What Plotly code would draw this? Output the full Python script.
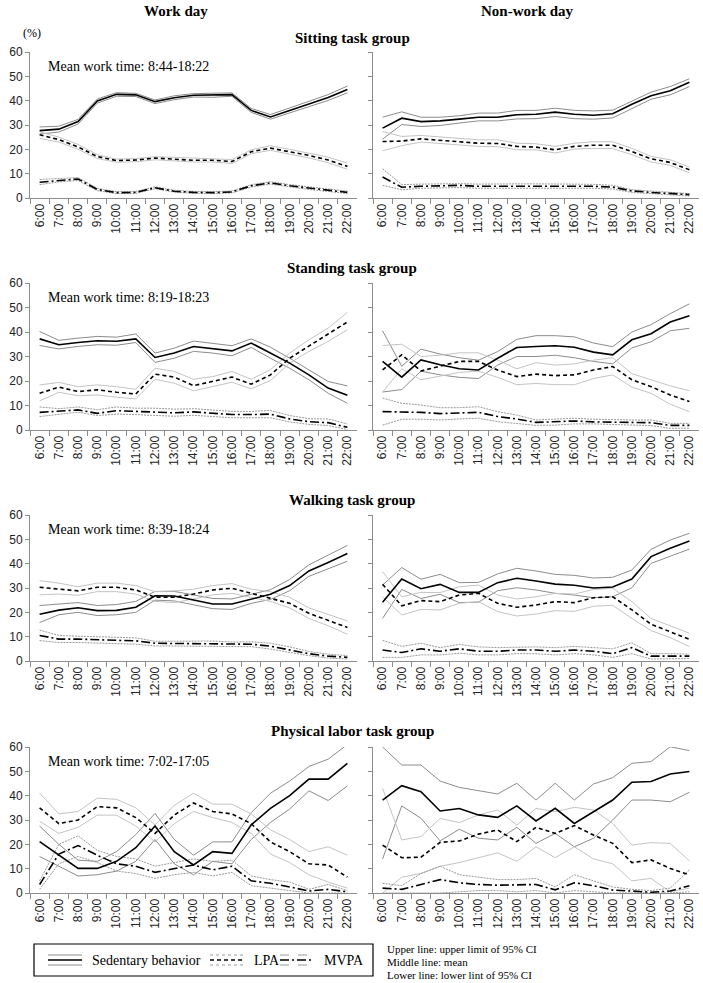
import plotly.graph_objects as go

hours = ["6:00", "7:00", "8:00", "9:00", "10:00", "11:00", "12:00", "13:00", "14:00",
         "15:00", "16:00", "17:00", "18:00", "19:00", "20:00", "21:00", "22:00"]
y_ticks = [0, 10, 20, 30, 40, 50, 60]
group_titles = ["Sitting task group", "Standing task group", "Walking task group", "Physical labor task group"]
work_times = ["Mean work time: 8:44-18:22", "Mean work time: 8:19-18:23",
              "Mean work time: 8:39-18:24", "Mean work time: 7:02-17:05"]
legend_names = ["Sedentary behavior", "LPA", "MVPA"]
notes = ["Upper line: upper limit of 95% CI", "Middle line: mean", "Lower line: lower lint of 95% CI"]

# ---- Sitting, work day ----
sit_w_sed = [27.7, 28.3, 31.4, 39.9, 42.6, 42.4, 39.6, 41.2, 42.2, 42.2, 42.5, 36.0, 33.3, 36.0, 38.7, 41.3, 44.6]
sit_w_sed_hi = [29.2, 29.5, 32.3, 40.7, 43.3, 43.0, 40.3, 42.0, 42.9, 42.9, 43.2, 36.8, 34.3, 37.0, 39.8, 42.5, 46.0]
sit_w_sed_lo = [26.3, 27.1, 30.4, 39.0, 41.8, 41.7, 38.8, 40.4, 41.5, 41.4, 41.8, 35.2, 32.4, 35.0, 37.6, 40.1, 43.2]
sit_w_lpa = [26.0, 24.0, 21.0, 17.0, 15.4, 15.6, 16.4, 16.0, 15.5, 15.5, 15.0, 19.0, 20.5, 19.0, 17.5, 15.6, 13.0]
sit_w_lpa_hi = [27.2, 25.0, 22.0, 17.8, 16.0, 16.2, 17.0, 16.7, 16.2, 16.2, 15.8, 19.8, 21.5, 20.0, 18.5, 16.8, 14.3]
sit_w_lpa_lo = [24.5, 23.0, 20.0, 16.2, 14.7, 14.9, 15.7, 15.3, 14.8, 14.8, 14.2, 18.2, 19.6, 18.0, 16.5, 14.5, 11.8]
sit_w_mv = [6.5, 7.3, 7.8, 3.5, 2.2, 2.3, 4.2, 2.8, 2.3, 2.2, 2.5, 5.0, 6.2, 5.0, 4.0, 3.2, 2.3]
sit_w_mv_hi = [7.6, 8.0, 8.4, 4.0, 2.6, 2.7, 4.6, 3.2, 2.7, 2.6, 2.9, 5.5, 6.7, 5.5, 4.5, 3.7, 2.8]
sit_w_mv_lo = [5.5, 6.6, 7.2, 3.0, 1.8, 1.9, 3.8, 2.4, 1.9, 1.8, 2.1, 4.5, 5.7, 4.5, 3.5, 2.7, 1.8]

# ---- Sitting, non-work day ----
sit_n_sed = [28.7, 32.8, 31.4, 31.7, 32.4, 33.2, 33.2, 34.2, 34.4, 35.3, 34.4, 34.0, 34.6, 38.5, 42.0, 44.1, 47.6]
sit_n_sed_hi = [33.2, 35.4, 33.2, 33.2, 33.8, 34.9, 34.9, 36.0, 36.0, 36.9, 36.0, 35.8, 36.1, 39.9, 43.5, 45.8, 49.0]
sit_n_sed_lo = [24.2, 30.2, 29.4, 29.8, 30.8, 31.7, 31.7, 32.5, 32.6, 33.5, 32.6, 32.4, 32.9, 36.9, 40.6, 42.4, 45.8]
sit_n_lpa = [23.2, 23.4, 24.3, 23.6, 23.1, 22.5, 22.4, 21.2, 20.9, 19.8, 21.2, 21.7, 21.7, 19.1, 16.1, 14.6, 11.6]
sit_n_lpa_hi = [27.3, 25.3, 25.7, 25.0, 24.3, 23.9, 23.9, 22.5, 22.3, 21.2, 22.5, 23.1, 23.1, 20.4, 17.1, 15.7, 12.7]
sit_n_lpa_lo = [19.4, 21.5, 23.0, 22.3, 21.6, 21.2, 21.1, 19.8, 19.8, 18.5, 20.1, 20.4, 20.3, 17.8, 14.8, 13.4, 10.3]
sit_n_mv = [8.6, 4.4, 4.8, 5.1, 5.2, 4.8, 4.8, 4.8, 4.9, 5.1, 4.8, 4.8, 4.5, 2.9, 2.3, 1.8, 1.4]
sit_n_mv_hi = [12.0, 5.5, 5.7, 5.9, 5.9, 5.7, 5.6, 5.8, 5.8, 5.9, 5.7, 5.6, 5.2, 3.4, 2.9, 2.3, 1.8]
sit_n_mv_lo = [5.2, 3.4, 4.0, 4.1, 4.3, 4.0, 4.0, 4.0, 4.0, 4.2, 4.0, 4.0, 3.7, 2.3, 1.8, 1.2, 0.8]

# ---- Standing, work day ----
std_w_sed = [37.2, 34.8, 35.7, 36.4, 36.2, 37.2, 29.6, 31.4, 34.1, 33.2, 32.3, 35.5, 31.4, 27.3, 22.5, 17.1, 14.2]
std_w_sed_hi = [40.2, 36.6, 37.5, 38.2, 37.9, 39.2, 31.4, 33.4, 36.3, 35.5, 34.4, 37.2, 33.8, 29.3, 24.6, 19.8, 18.0]
std_w_sed_lo = [34.5, 33.1, 34.1, 34.8, 34.6, 35.7, 27.6, 29.3, 32.1, 31.4, 30.3, 33.7, 29.3, 25.2, 20.5, 15.0, 10.9]
std_w_lpa = [15.0, 17.5, 15.7, 16.4, 15.4, 14.7, 22.8, 21.6, 18.1, 19.8, 21.6, 18.7, 22.5, 29.3, 34.1, 39.2, 44.1]
std_w_lpa_hi = [18.4, 19.4, 17.7, 18.4, 17.7, 16.6, 25.2, 23.9, 20.7, 21.8, 23.9, 20.7, 24.6, 31.4, 36.8, 41.6, 48.0]
std_w_lpa_lo = [11.9, 15.4, 14.0, 14.3, 13.4, 12.7, 20.7, 19.1, 16.0, 17.7, 19.5, 16.8, 20.2, 27.3, 32.1, 36.2, 40.9]
std_w_mv = [7.2, 7.6, 8.2, 6.8, 7.9, 7.6, 7.4, 7.0, 7.4, 6.8, 6.3, 6.3, 6.5, 4.5, 3.4, 3.0, 1.1]
std_w_mv_hi = [9.4, 8.7, 9.4, 8.3, 9.4, 8.9, 8.9, 8.5, 8.7, 8.0, 7.6, 7.6, 8.0, 5.9, 4.6, 4.5, 2.5]
std_w_mv_lo = [5.5, 6.5, 7.3, 5.9, 6.5, 6.3, 6.0, 5.6, 6.0, 5.5, 5.0, 5.0, 5.0, 3.3, 2.3, 1.8, 0.2]

# ---- Standing, non-work day ----
std_n_sed = [28.0, 21.6, 28.6, 26.6, 25.0, 24.5, 29.3, 33.7, 34.1, 34.4, 33.8, 31.8, 30.7, 36.8, 39.3, 44.1, 46.6]
std_n_sed_hi = [40.5, 26.0, 33.0, 31.0, 29.5, 28.5, 32.0, 37.0, 38.5, 38.5, 38.0, 35.5, 34.0, 40.0, 43.0, 47.5, 51.5]
std_n_sed_lo = [15.5, 16.5, 24.0, 22.5, 21.5, 21.0, 26.5, 30.0, 30.0, 30.5, 29.5, 28.0, 27.0, 33.5, 36.0, 40.5, 41.5]
std_n_lpa = [24.5, 30.7, 24.1, 26.0, 28.0, 28.0, 24.5, 21.8, 22.8, 22.2, 22.5, 24.5, 25.9, 20.5, 17.7, 14.3, 11.6]
std_n_lpa_hi = [34.5, 35.0, 30.0, 30.5, 31.5, 31.5, 28.5, 25.0, 27.5, 26.5, 27.0, 28.5, 29.5, 23.0, 20.5, 18.0, 16.0]
std_n_lpa_lo = [15.5, 25.0, 20.5, 22.0, 23.5, 24.0, 21.5, 18.5, 19.0, 18.5, 18.5, 21.0, 22.5, 17.5, 15.0, 10.5, 7.5]
std_n_mv = [7.5, 7.5, 7.2, 6.7, 6.8, 7.2, 5.5, 4.5, 3.1, 3.4, 3.7, 3.3, 3.3, 3.0, 3.0, 1.9, 1.9]
std_n_mv_hi = [13.0, 10.9, 10.2, 9.1, 9.1, 9.5, 7.5, 6.1, 4.1, 4.4, 4.8, 4.4, 4.1, 4.1, 4.1, 2.7, 2.7]
std_n_mv_lo = [2.0, 4.4, 4.4, 4.1, 4.5, 4.8, 3.4, 2.7, 1.9, 2.0, 2.5, 2.5, 2.3, 2.0, 1.8, 0.7, 0.7]

# ---- Walking, work day ----
wlk_w_sed = [19.2, 20.9, 21.9, 20.7, 20.8, 22.1, 26.8, 26.7, 25.1, 23.4, 23.4, 25.5, 27.4, 31.0, 37.0, 40.5, 44.2]
wlk_w_sed_hi = [22.8, 23.3, 24.0, 22.8, 23.2, 24.5, 28.6, 28.6, 27.0, 25.7, 25.5, 27.5, 29.3, 33.5, 39.5, 43.5, 47.5]
wlk_w_sed_lo = [15.8, 19.0, 20.0, 18.7, 19.0, 20.0, 25.0, 24.7, 23.1, 21.5, 21.2, 23.7, 25.3, 28.9, 34.8, 38.0, 41.0]
wlk_w_lpa = [30.3, 29.6, 28.8, 30.3, 30.3, 29.2, 26.2, 26.2, 27.5, 29.2, 29.9, 27.8, 25.8, 23.7, 19.6, 16.8, 13.8]
wlk_w_lpa_hi = [33.0, 32.0, 30.5, 32.0, 32.0, 31.0, 28.5, 28.8, 29.5, 31.0, 31.8, 29.5, 28.5, 26.2, 21.8, 19.3, 16.5]
wlk_w_lpa_lo = [27.2, 27.5, 27.0, 28.5, 28.5, 27.5, 24.5, 24.0, 25.5, 27.2, 27.8, 26.0, 24.5, 21.8, 17.5, 14.5, 11.0]
wlk_w_mv = [10.5, 9.0, 9.0, 8.6, 8.5, 8.3, 7.3, 7.2, 7.1, 7.1, 6.9, 6.9, 6.1, 4.6, 3.0, 2.0, 1.5]
wlk_w_mv_hi = [12.7, 10.5, 10.2, 9.9, 9.7, 9.5, 8.1, 8.1, 8.1, 8.2, 7.8, 7.9, 7.3, 5.8, 3.9, 2.8, 2.2]
wlk_w_mv_lo = [8.4, 7.6, 7.6, 7.4, 7.2, 6.9, 6.2, 6.1, 6.0, 6.0, 6.0, 5.9, 4.9, 3.4, 2.2, 1.2, 0.8]

# ---- Walking, non-work day ----
wlk_n_sed = [24.1, 33.7, 29.7, 31.5, 28.2, 28.2, 32.2, 34.0, 32.9, 31.6, 31.1, 30.0, 30.4, 33.7, 42.9, 46.3, 49.3]
wlk_n_sed_hi = [31.2, 38.4, 33.6, 35.6, 32.2, 32.3, 35.8, 38.1, 37.0, 35.6, 35.2, 34.1, 34.4, 37.4, 45.9, 49.7, 52.5]
wlk_n_sed_lo = [17.5, 29.4, 25.7, 27.4, 24.0, 24.2, 28.9, 30.1, 29.2, 27.8, 27.1, 26.0, 26.4, 30.1, 40.1, 43.2, 46.0]
wlk_n_lpa = [31.5, 22.7, 24.8, 24.4, 27.1, 27.8, 23.7, 22.1, 23.0, 24.4, 24.0, 26.0, 26.4, 21.0, 15.1, 12.1, 8.9]
wlk_n_lpa_hi = [36.7, 26.4, 28.2, 28.1, 30.5, 31.2, 27.1, 25.5, 26.4, 27.8, 27.5, 29.4, 29.9, 24.4, 17.5, 14.4, 11.4]
wlk_n_lpa_lo = [26.4, 18.9, 21.2, 21.0, 23.7, 24.4, 20.3, 18.5, 19.3, 20.7, 20.4, 22.5, 22.9, 17.5, 12.5, 9.6, 5.9]
wlk_n_mv = [4.5, 3.5, 5.0, 4.0, 5.0, 4.0, 4.0, 4.5, 4.5, 4.0, 4.5, 4.0, 3.0, 5.5, 2.0, 2.0, 2.0]
wlk_n_mv_hi = [8.5, 6.0, 7.3, 5.5, 6.8, 5.8, 5.5, 5.8, 5.8, 5.5, 6.0, 5.5, 5.0, 7.5, 3.0, 3.0, 2.8]
wlk_n_mv_lo = [1.5, 1.5, 2.5, 2.5, 3.2, 2.5, 2.5, 3.0, 3.0, 2.5, 3.0, 2.5, 1.5, 3.0, 0.8, 1.0, 1.0]

# ---- Physical labor, work day ----
phy_w_sed = [21.1, 15.5, 10.1, 10.1, 13.0, 18.6, 27.5, 17.0, 11.5, 17.0, 16.3, 28.0, 34.8, 40.0, 46.8, 46.8, 53.3]
phy_w_sed_hi = [27.5, 20.0, 13.5, 13.0, 17.0, 24.0, 32.7, 22.0, 15.5, 21.0, 21.0, 33.0, 41.0, 46.0, 52.0, 55.0, 61.0]
phy_w_sed_lo = [15.0, 11.0, 7.0, 7.5, 9.0, 13.0, 22.0, 12.0, 7.5, 13.0, 12.0, 22.0, 29.0, 34.5, 42.0, 38.0, 44.0]
phy_w_lpa = [35.0, 28.5, 30.0, 35.5, 35.0, 31.0, 24.5, 32.0, 37.0, 33.5, 32.5, 28.5, 21.0, 17.0, 12.0, 11.5, 6.5]
phy_w_lpa_hi = [41.0, 32.5, 33.5, 39.0, 38.5, 35.0, 28.0, 36.0, 41.0, 36.5, 36.5, 32.5, 26.0, 22.0, 17.0, 19.0, 15.5]
phy_w_lpa_lo = [29.5, 24.5, 27.0, 32.0, 32.0, 27.5, 21.0, 28.5, 33.5, 31.0, 29.0, 24.5, 16.0, 12.5, 7.5, 4.5, 2.0]
phy_w_mv = [3.5, 16.0, 19.5, 15.5, 12.0, 11.0, 8.5, 10.0, 11.5, 9.5, 11.0, 5.0, 4.0, 2.5, 0.8, 1.5, 0.5]
phy_w_mv_hi = [5.0, 20.0, 23.5, 17.5, 15.0, 14.0, 11.0, 12.5, 14.0, 13.0, 13.5, 7.0, 5.5, 4.5, 1.5, 3.5, 1.0]
phy_w_mv_lo = [1.5, 12.0, 15.0, 12.5, 9.0, 8.0, 6.0, 7.5, 8.5, 7.0, 8.5, 3.0, 2.0, 1.0, 0.0, 0.0, 0.0]

# ---- Physical labor, non-work day ----
phy_n_sed = [38.2, 44.1, 41.6, 33.7, 34.7, 32.1, 31.1, 35.8, 29.6, 34.8, 28.6, 33.4, 38.2, 45.5, 45.8, 48.9, 49.9]
phy_n_sed_hi = [60.0, 52.6, 52.6, 46.0, 43.4, 42.0, 40.7, 45.1, 38.2, 45.1, 38.2, 44.8, 47.4, 53.3, 54.0, 60.1, 58.5]
phy_n_sed_lo = [14.0, 35.8, 30.7, 21.4, 26.2, 22.5, 21.8, 27.0, 20.4, 24.5, 19.0, 22.5, 30.0, 38.2, 38.2, 37.5, 41.4]
phy_n_lpa = [19.7, 14.5, 14.7, 20.8, 21.4, 24.2, 25.9, 21.1, 27.0, 24.5, 27.7, 23.8, 20.4, 12.5, 13.6, 10.1, 7.4]
phy_n_lpa_hi = [43.0, 21.8, 23.2, 30.7, 28.9, 32.1, 34.1, 27.9, 34.8, 33.4, 35.2, 34.1, 28.6, 19.7, 20.7, 20.4, 13.2]
phy_n_lpa_lo = [0.0, 6.5, 8.0, 11.0, 12.5, 14.5, 16.5, 13.0, 19.0, 14.5, 19.0, 14.0, 12.0, 5.0, 6.0, 0.5, 2.0]
phy_n_mv = [2.0, 1.5, 3.5, 5.5, 4.2, 3.5, 3.2, 3.3, 3.5, 1.3, 4.2, 3.0, 1.2, 0.8, 0.3, 0.8, 3.0]
phy_n_mv_hi = [4.0, 3.0, 8.0, 11.0, 7.5, 6.5, 5.5, 5.5, 6.0, 2.5, 7.5, 5.0, 2.5, 1.5, 1.0, 2.0, 9.5]
phy_n_mv_lo = [0.0, 0.0, 0.0, 0.0, 0.5, 1.0, 1.0, 0.5, 1.0, 0.0, 1.0, 0.5, 0.0, 0.0, 0.0, 0.0, 0.5]

panels = [
    (sit_w_sed, sit_w_sed_hi, sit_w_sed_lo, sit_w_lpa, sit_w_lpa_hi, sit_w_lpa_lo, sit_w_mv, sit_w_mv_hi, sit_w_mv_lo),
    (sit_n_sed, sit_n_sed_hi, sit_n_sed_lo, sit_n_lpa, sit_n_lpa_hi, sit_n_lpa_lo, sit_n_mv, sit_n_mv_hi, sit_n_mv_lo),
    (std_w_sed, std_w_sed_hi, std_w_sed_lo, std_w_lpa, std_w_lpa_hi, std_w_lpa_lo, std_w_mv, std_w_mv_hi, std_w_mv_lo),
    (std_n_sed, std_n_sed_hi, std_n_sed_lo, std_n_lpa, std_n_lpa_hi, std_n_lpa_lo, std_n_mv, std_n_mv_hi, std_n_mv_lo),
    (wlk_w_sed, wlk_w_sed_hi, wlk_w_sed_lo, wlk_w_lpa, wlk_w_lpa_hi, wlk_w_lpa_lo, wlk_w_mv, wlk_w_mv_hi, wlk_w_mv_lo),
    (wlk_n_sed, wlk_n_sed_hi, wlk_n_sed_lo, wlk_n_lpa, wlk_n_lpa_hi, wlk_n_lpa_lo, wlk_n_mv, wlk_n_mv_hi, wlk_n_mv_lo),
    (phy_w_sed, phy_w_sed_hi, phy_w_sed_lo, phy_w_lpa, phy_w_lpa_hi, phy_w_lpa_lo, phy_w_mv, phy_w_mv_hi, phy_w_mv_lo),
    (phy_n_sed, phy_n_sed_hi, phy_n_sed_lo, phy_n_lpa, phy_n_lpa_hi, phy_n_lpa_lo, phy_n_mv, phy_n_mv_hi, phy_n_mv_lo),
]

W, H = 703, 983
SERIF = "Liberation Serif"
SANS = "Liberation Sans"

col_x = [(30, 357), (373, 699)]
row_y = [(52, 198), (283, 430), (515, 661), (747, 893)]

SED_MEAN = dict(color="black", width=1.6, dash="solid")
SED_CI = dict(color="#8c8c8c", width=1.0, dash="solid")
LPA_MEAN = dict(color="black", width=1.6, dash="4px,3px")
LPA_CI = dict(color="#c4c4c4", width=1.0, dash="solid")
MV_MEAN = dict(color="black", width=1.6, dash="9px,3px,2px,3px")
MV_CI = dict(color="#9a9a9a", width=1.0, dash="2px,1px")
styles = [SED_MEAN, SED_CI, SED_CI, LPA_MEAN, LPA_CI, LPA_CI, MV_MEAN, MV_CI, MV_CI]

fig = go.Figure()
layout = dict(width=W, height=H, margin=dict(l=0, r=0, t=0, b=0),
              paper_bgcolor="white", plot_bgcolor="white", showlegend=False)

order = [1, 2, 4, 5, 7, 8, 0, 3, 6]
for p, series in enumerate(panels):
    r, c = divmod(p, 2)
    k = p + 1
    xa = "x" if k == 1 else f"x{k}"
    ya = "y" if k == 1 else f"y{k}"
    for i in order:
        fig.add_trace(go.Scatter(x=hours, y=series[i], mode="lines", line=styles[i],
                                 xaxis=xa, yaxis=ya, hoverinfo="skip"))
    x0, x1 = col_x[c]
    y0, y1 = row_y[r]
    layout["xaxis" if k == 1 else f"xaxis{k}"] = dict(
        domain=[x0 / W, x1 / W], anchor=ya, type="category",
        range=[-0.5, 16.5], tickson="boundaries", ticks="outside", ticklen=5,
        tickcolor="#8c8c8c", showline=True, linecolor="#8c8c8c", linewidth=1,
        showgrid=False, zeroline=False, tickangle=-90,
        tickfont=dict(family=SANS, size=12, color="#222"), automargin=False)
    layout["yaxis" if k == 1 else f"yaxis{k}"] = dict(
        domain=[1 - y1 / H, 1 - y0 / H], anchor=xa, range=[0, 60],
        tickvals=y_ticks, ticks="outside", ticklen=4, tickcolor="#8c8c8c",
        showline=True, linecolor="#8c8c8c", linewidth=1, showgrid=False,
        zeroline=False, showticklabels=(c == 0),
        tickfont=dict(family=SANS, size=12, color="#222"), automargin=False)

def px(x):
    return x / W

def py(y):
    return 1 - y / H

def ann(text, x, y, size, xanchor="center"):
    return dict(text=text, x=px(x), y=py(y), xref="paper", yref="paper",
                xanchor=xanchor, yanchor="middle", showarrow=False,
                font=dict(family=SERIF, size=size, color="black"))

annotations = [
    ann("<b>Work day</b>", 176, 11, 15),
    ann("<b>Non-work day</b>", 527, 11, 15),
    ann("(%)", 32, 33, 12),
]
title_y = [38, 268, 500, 731]
for r in range(4):
    annotations.append(ann(f"<b>{group_titles[r]}</b>", 352, title_y[r], 15))
    annotations.append(ann(work_times[r], 46, row_y[r][0] + 14, 14, "left"))
for j, t in enumerate(notes):
    annotations.append(ann(t, 385, 949 + 13 * j, 11, "left"))

# legend box (decoration)
shapes = []
box_top, box_bot = 944, 976
shapes.append(dict(type="rect", xref="paper", yref="paper", x0=px(34), x1=px(373),
                   y0=py(box_bot), y1=py(box_top), line=dict(color="black", width=1.2),
                   fillcolor="rgba(0,0,0,0)"))
cy = (box_top + box_bot) / 2
leg_items = [(48, 82, 90, SED_MEAN), (210, 244, 252, LPA_MEAN), (280, 314, 322, MV_MEAN)]
leg_ci = [dict(color="#8c8c8c", width=1.0, dash="solid"),
          dict(color="#9a9a9a", width=1.0, dash="dot"),
          dict(color="#9a9a9a", width=1.0, dash="dash")]
for n, (sx0, sx1, tx, lmean) in enumerate(leg_items):
    for dy, ln in ((-5, leg_ci[n]), (0, lmean), (5, leg_ci[n])):
        shapes.append(dict(type="line", xref="paper", yref="paper", x0=px(sx0), x1=px(sx1),
                           y0=py(cy + dy), y1=py(cy + dy), line=ln))
    annotations.append(ann(legend_names[n], tx, cy, 14, "left"))

layout["annotations"] = annotations
layout["shapes"] = shapes
fig.update_layout(**layout)
fig.write_html("out.html", config={"displayModeBar": False},
               post_script="document.body.style.margin='0';document.body.style.overflow='hidden';")
